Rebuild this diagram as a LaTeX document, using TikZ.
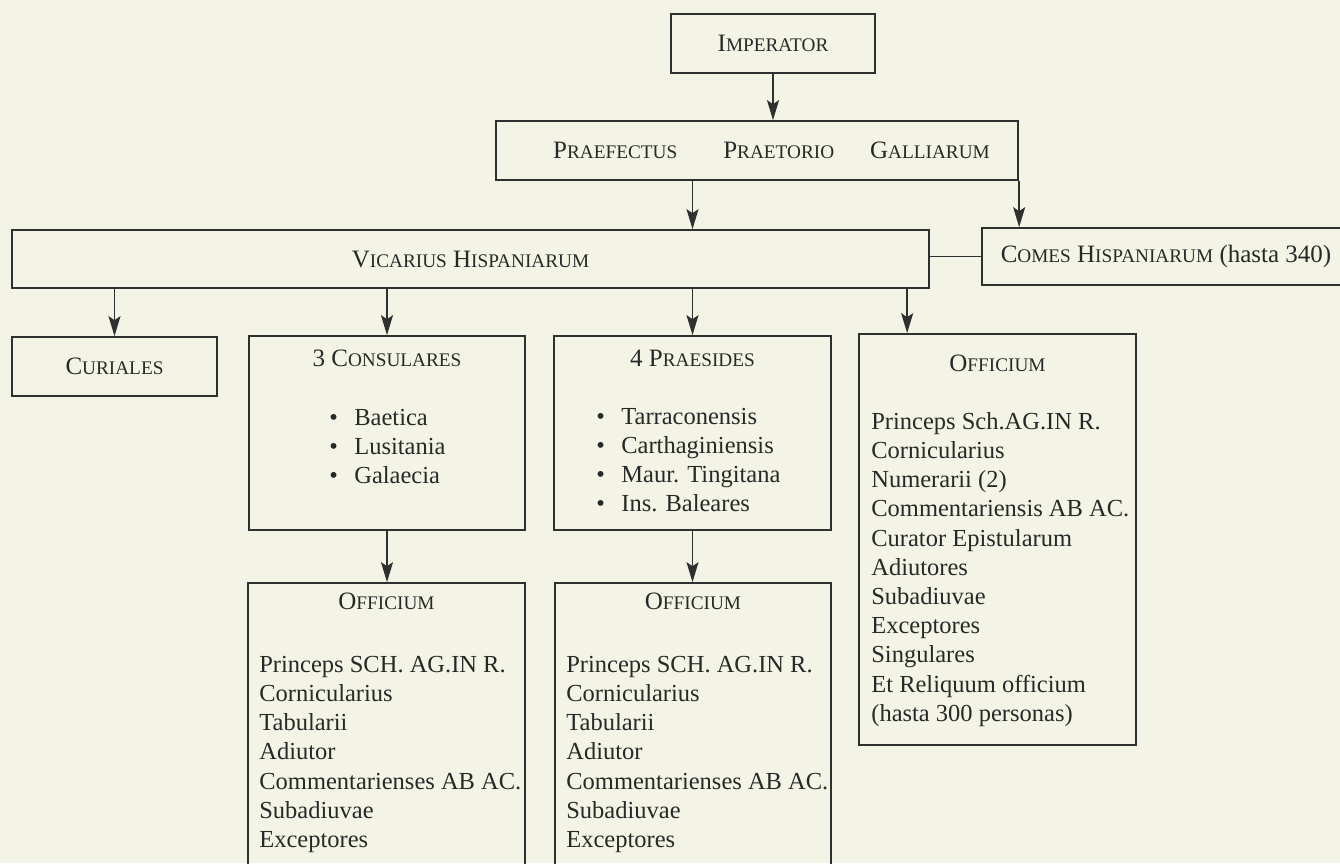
\documentclass[tikz,border=0pt]{standalone}
\usepackage{fontspec}
\setmainfont{Liberation Serif}
\usetikzlibrary{arrows.meta,calc}
\definecolor{bg}{RGB}{244,244,230}
\definecolor{ink}{RGB}{40,40,40}
\definecolor{rule}{RGB}{48,48,48}
\tikzset{
  box/.style={draw=rule, line width=1.7pt, inner sep=0pt, text=ink, font=\fontsize{25}{29.2}\selectfont},
  arr/.style={draw=rule, line width=1.7pt, -{Stealth[length=20pt,width=12pt,inset=4pt]}},
  link/.style={draw=rule, line width=1.7pt},
  txt/.style={text=ink, inner sep=0pt, font=\fontsize{24.5}{29.2}\selectfont, align=left},
  head/.style={text=ink, inner sep=0pt, font=\fontsize{25}{29.2}\selectfont, anchor=base},
}
\newcommand{\sm}[1]{{\fontsize{19.25}{20}\selectfont #1}}
\newcommand{\bul}[1]{\makebox[25pt][l]{\textbullet}#1}
\begin{document}
\begin{tikzpicture}[x=1pt,y=-1pt]
\useasboundingbox (0,0) rectangle (1340,863);
\fill[bg] (0,0) rectangle (1340,863);
\clip (0,0) rectangle (1340,863);

% boxes
\node[box, minimum width=204pt, minimum height=59pt] (imp) at (773,43.5) {I\sm{MPERATOR}};
\node[box, minimum width=522pt, minimum height=59pt] (pref) at (757,150.5)
  {\hspace*{29pt}P\sm{RAEFECTUS}\hspace{46pt}P\sm{RAETORIO}\hspace{36pt}G\sm{ALLIARUM}};
\node[box, minimum width=917pt, minimum height=58pt] (vic) at (470.5,259) {V\sm{ICARIUS} H\sm{ISPANIARUM}};
\node[box, minimum width=368pt, minimum height=57pt] (com) at (1166,256.5) {C\sm{OMES} H\sm{ISPANIARUM} (hasta 340)};
\node[box, minimum width=205pt, minimum height=59pt] (cur) at (114.5,366.5) {C\sm{URIALES}};
\node[box, minimum width=276pt, minimum height=194pt] (con) at (387,433) {};
\node[box, minimum width=277pt, minimum height=194pt] (pra) at (692.5,433) {};
\node[box, minimum width=277pt, minimum height=411pt] (offR) at (997.5,539.5) {};
\node[box, minimum width=277pt, minimum height=317pt] (offL) at (386.5,741.5) {};
\node[box, minimum width=276pt, minimum height=317pt] (offM) at (693,741.5) {};

% box contents
\node[head] (conh) at ($(con.north)+(0,31)$) {3 C\sm{ONSULARES}};
\node[txt, anchor=north west] (conl) at ($(con.north west)+(81,70)$)
  {\rule{0pt}{20pt}\bul{Baetica}\\ \bul{Lusitania}\\ \bul{Galaecia}};
\node[head] (prah) at ($(pra.north)+(0,31)$) {4 P\sm{RAESIDES}};
\node[txt, anchor=north west] (pral) at ($(pra.north west)+(43,69)$)
  {\rule{0pt}{20pt}\bul{Tarraconensis}\\ \bul{Carthaginiensis}\\ \bul{Maur. Tingitana}\\ \bul{Ins. Baleares}};

\node[head] (offRh) at ($(offR.north)+(0,38)$) {O\sm{FFICIUM}};
\node[txt, anchor=north west] (offRl) at ($(offR.north west)+(13,76)$)
  {\rule{0pt}{20pt}Princeps Sch.AG.IN R.\\ Cornicularius\\ Numerarii (2)\\ Commentariensis AB AC.\\
   Curator Epistularum\\ Adiutores\\ Subadiuvae\\ Exceptores\\ Singulares\\ Et Reliquum officium\\ (hasta 300 personas)};

\node[head] (offLh) at ($(offL.north)+(0,27)$) {O\sm{FFICIUM}};
\node[txt, anchor=north west] (offLl) at ($(offL.north west)+(12,70)$)
  {\rule{0pt}{20pt}Princeps SCH. AG.IN R.\\ Cornicularius\\ Tabularii\\ Adiutor\\ Commentarienses AB AC.\\ Subadiuvae\\ Exceptores};

\node[head] (offMh) at ($(offM.north)+(0,27)$) {O\sm{FFICIUM}};
\node[txt, anchor=north west] (offMl) at ($(offM.north west)+(12,70)$)
  {\rule{0pt}{20pt}Princeps SCH. AG.IN R.\\ Cornicularius\\ Tabularii\\ Adiutor\\ Commentarienses AB AC.\\ Subadiuvae\\ Exceptores};

% connectors
\draw[arr] (imp.south) -- (imp.south |- pref.north);
\draw[arr] (pref.south -| pra.north) -- (pra.north |- vic.north);
\coordinate (comin) at ($(com.north west)+(38,0)$);
\draw[arr] (comin |- pref.south) -- (comin);
\draw[link] (vic.east |- com.west) -- (com.west);
\draw[arr] (cur.north |- vic.south) -- (cur.north);
\draw[arr] (con.north |- vic.south) -- (con.north);
\draw[arr] (pra.north |- vic.south) -- (pra.north);
\coordinate (offRin) at ($(offR.north west)+(49,0)$);
\draw[arr] (offRin |- vic.south) -- (offRin);
\draw[arr] (con.south) -- (con.south |- offL.north);
\draw[arr] (pra.south) -- (pra.south |- offM.north);
\end{tikzpicture}
\end{document}
